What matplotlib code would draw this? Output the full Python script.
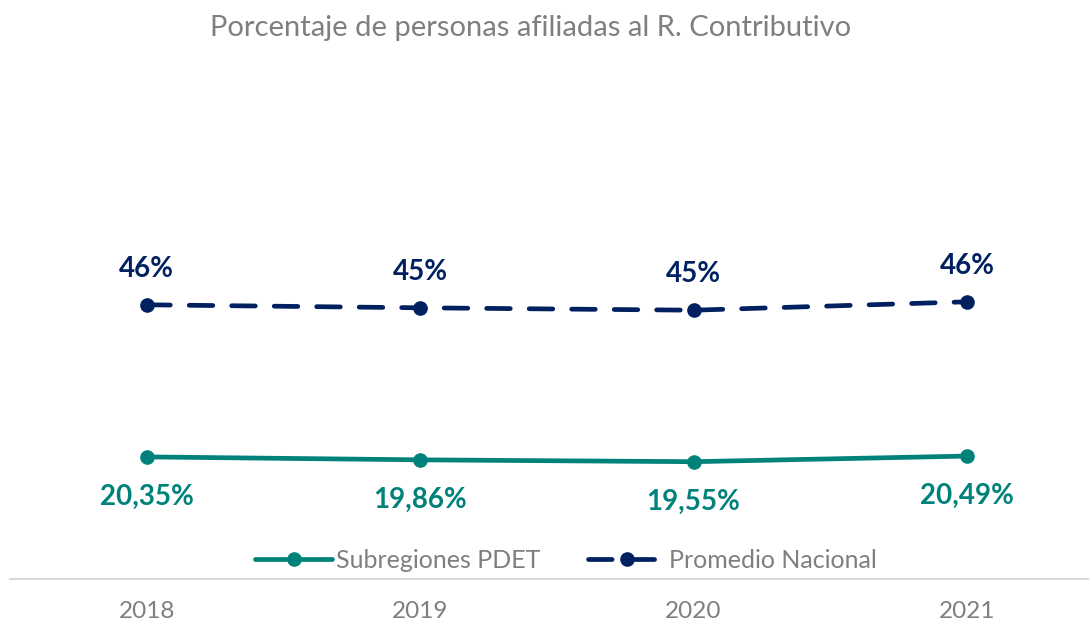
import matplotlib.pyplot as plt

# Datos
years = ['2018', '2019', '2020', '2021']
pdet = [20.35, 19.86, 19.55, 20.49]
nacional = [45.7, 45.2, 44.8, 46.2]
pdet_labels = ['20,35%', '19,86%', '19,55%', '20,49%']
nacional_labels = ['46%', '45%', '45%', '46%']

teal = '#00827A'
navy = '#002060'
gray = '#7F7F7F'

plt.rcParams['font.family'] = ['Lato', 'DejaVu Sans']

fig = plt.figure(figsize=(10.89, 6.27), dpi=100)
ax = fig.add_axes([10 / 1089, 48 / 627, 1079 / 1089, 519 / 627])

x = range(len(years))
ax.plot(x, pdet, color=teal, linewidth=3.4, marker='o', markersize=9.5,
        solid_capstyle='round', label='Subregiones PDET')
ax.plot(x, nacional, color=navy, linewidth=3.4, marker='o', markersize=9.5,
        linestyle=(0, (5, 4)), dash_capstyle='round', label='Promedio Nacional')

for i in x:
    ax.annotate(nacional_labels[i], (i, nacional[i]), xytext=(0, 26),
                textcoords='offset points', ha='center', va='center',
                fontsize=20, fontweight='bold', color=navy)
    ax.annotate(pdet_labels[i], (i, pdet[i]), xytext=(0, -29),
                textcoords='offset points', ha='center', va='center',
                fontsize=20, fontweight='bold', color=teal)

ax.set_xlim(-0.5, -0.5 + 1079 / 273.4)
ax.set_ylim(0, 86.5)
ax.set_xticks(list(x))
ax.set_xticklabels(years, fontsize=17.5, color=gray)
ax.set_yticks([])
ax.tick_params(axis='x', length=0, pad=16)
for side in ['top', 'right', 'left']:
    ax.spines[side].set_visible(False)
ax.spines['bottom'].set_color('#D9D9D9')
ax.spines['bottom'].set_linewidth(1.5)

leg = ax.legend(loc='center', bbox_to_anchor=(556 / 1079, 19 / 519), ncol=2,
                frameon=False, fontsize=18, handlelength=3.1, columnspacing=1.9,
                handletextpad=0.15)
for t in leg.get_texts():
    t.set_color(gray)

fig.text(531 / 1089, 1 - 28 / 627, 'Porcentaje de personas afiliadas al R. Contributivo',
         ha='center', va='center', fontsize=21, color=gray)

fig.savefig('out.png', dpi=100)
